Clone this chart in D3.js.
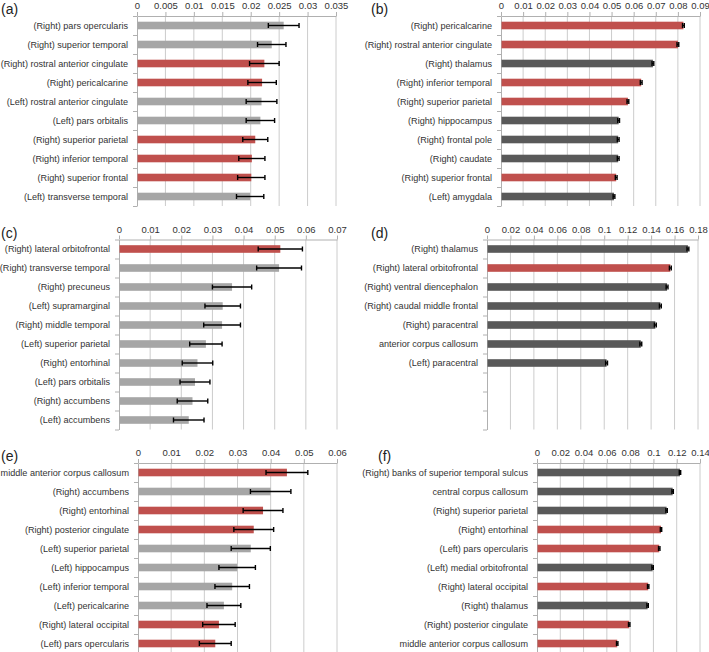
<!DOCTYPE html>
<html>
<head>
<meta charset="utf-8">
<script src="https://cdn.jsdelivr.net/npm/d3@7/dist/d3.min.js"></script>
<style>
  html, body { margin: 0; padding: 0; background: #fff; }
  svg { display: block; }
</style>
</head>
<body>
<svg id="chart" width="709" height="652"></svg>
<script>
// ---------------- DATA ----------------
// group codes: "r" = red bar, "g" = grey bar
const catsA = ["(Right) pars opercularis","(Right) superior temporal","(Right) rostral anterior cingulate","(Right) pericalcarine","(Left) rostral anterior cingulate","(Left) pars orbitalis","(Right) superior parietal","(Right) inferior temporal","(Right) superior frontal","(Left) transverse temporal"];
const valsA = [0.0258,0.0237,0.0224,0.0220,0.0219,0.0217,0.0208,0.0202,0.0201,0.0199];
const errsA = [0.0027,0.0025,0.0026,0.0025,0.0027,0.0025,0.0022,0.0023,0.0024,0.0024];
const grpA  = ["g","g","r","r","g","g","r","r","r","g"];
const ticksA = [0,0.005,0.01,0.015,0.02,0.025,0.03,0.035];

const catsB = ["(Right) pericalcarine","(Right) rostral anterior cingulate","(Right) thalamus","(Right) inferior temporal","(Right) superior parietal","(Right) hippocampus","(Right) frontal pole","(Right) caudate","(Right) superior frontal","(Left) amygdala"];
const valsB = [0.0825,0.0800,0.0687,0.0634,0.0574,0.0532,0.0530,0.0530,0.0521,0.0511];
const errsB = [0.0004,0.0004,0.0004,0.0004,0.0004,0.0004,0.0004,0.0004,0.0004,0.0004];
const grpB  = ["r","r","g","r","r","g","g","g","r","g"];
const ticksB = [0,0.01,0.02,0.03,0.04,0.05,0.06,0.07,0.08,0.09];

const catsC = ["(Right) lateral orbitofrontal","(Right) transverse temporal","(Right) precuneus","(Left) supramarginal","(Right) middle temporal","(Left) superior parietal","(Right) entorhinal","(Left) pars orbitalis","(Right) accumbens","(Left) accumbens"];
const valsC = [0.0518,0.0514,0.0363,0.0333,0.0331,0.0279,0.0252,0.0244,0.0236,0.0224];
const errsC = [0.0071,0.0072,0.0063,0.0057,0.0059,0.0052,0.0049,0.0048,0.0049,0.0049];
const grpC  = ["r","g","g","g","g","g","g","g","g","g"];
const ticksC = [0,0.01,0.02,0.03,0.04,0.05,0.06,0.07];

const catsD = ["(Right) thalamus","(Right) lateral orbitofrontal","(Right) ventral diencephalon","(Right) caudal middle frontal","(Right) paracentral","anterior corpus callosum","(Left) paracentral"];
const valsD = [0.1714,0.1564,0.1536,0.1479,0.1436,0.1312,0.1020];
const errsD = [0.0008,0.0008,0.0008,0.0008,0.0008,0.0008,0.0008];
const grpD  = ["g","r","g","g","g","g","g"];
const ticksD = [0,0.02,0.04,0.06,0.08,0.1,0.12,0.14,0.16,0.18];

const catsE = ["middle anterior corpus callosum","(Right) accumbens","(Right) entorhinal","(Right) posterior cingulate","(Left) superior parietal","(Left) hippocampus","(Left) inferior temporal","(Left) pericalcarine","(Right) lateral occipital","(Left) pars opercularis"];
const valsE = [0.0449,0.0400,0.0377,0.0349,0.0340,0.0299,0.0284,0.0259,0.0244,0.0233];
const errsE = [0.0063,0.0061,0.0060,0.0060,0.0059,0.0055,0.0052,0.0051,0.0049,0.0048];
const grpE  = ["r","g","r","r","g","g","g","g","r","r"];
const ticksE = [0,0.01,0.02,0.03,0.04,0.05,0.06];

const catsF = ["(Right) banks of superior temporal sulcus","central corpus callosum","(Right) superior parietal","(Right) entorhinal","(Left) pars opercularis","(Left) medial orbitofrontal","(Right) lateral occipital","(Right) thalamus","(Right) posterior cingulate","middle anterior corpus callosum"];
const valsF = [0.1228,0.1165,0.1113,0.1065,0.1050,0.0993,0.0955,0.0950,0.0792,0.0689];
const errsF = [0.0006,0.0006,0.0006,0.0006,0.0006,0.0006,0.0006,0.0006,0.0006,0.0006];
const grpF  = ["g","g","g","r","r","g","r","g","r","r"];
const ticksF = [0,0.02,0.04,0.06,0.08,0.1,0.12,0.14];

const panelNames = ["(a)","(b)","(c)","(d)","(e)","(f)"];

// ---------------- LAYOUT / STYLE ----------------
const RED = "#c0504d", LIGHT = "#a6a6a6", DARK = "#595959";
const slots = 10, step = 19;
const panels = [
  {name:panelNames[0], cats:catsA, vals:valsA, errs:errsA, grp:grpA, ticks:ticksA, x0:137, x1:336, top:16,    lx:1,   base:LIGHT},
  {name:panelNames[1], cats:catsB, vals:valsB, errs:errsB, grp:grpB, ticks:ticksB, x0:501, x1:700, top:16,    lx:371, base:DARK},
  {name:panelNames[2], cats:catsC, vals:valsC, errs:errsC, grp:grpC, ticks:ticksC, x0:119, x1:337, top:239.5, lx:1,   base:LIGHT},
  {name:panelNames[3], cats:catsD, vals:valsD, errs:errsD, grp:grpD, ticks:ticksD, x0:487, x1:698, top:239.5, lx:371, base:DARK},
  {name:panelNames[4], cats:catsE, vals:valsE, errs:errsE, grp:grpE, ticks:ticksE, x0:138, x1:337, top:463,   lx:1,   base:LIGHT},
  {name:panelNames[5], cats:catsF, vals:valsF, errs:errsF, grp:grpF, ticks:ticksF, x0:537, x1:700, top:463,   lx:378, base:DARK}
];

const svg = d3.select("#chart");
svg.append("rect").attr("width",709).attr("height",652).attr("fill","#fff");

panels.forEach(p => {
  const g = svg.append("g");
  const x = d3.scaleLinear().domain([0, p.ticks[p.ticks.length-1]]).range([p.x0, p.x1]);
  const y = d3.scaleBand().domain(d3.range(slots)).range([p.top, p.top + slots*step])
              .paddingInner(0.6).paddingOuter(0.3);
  const yl = d3.scaleLinear().domain([0, slots]).range([p.top, p.top + slots*step]);
  const color = d3.scaleOrdinal().domain(["r","g"]).range([RED, p.base]);
  const bottom = p.top + slots*step;

  // gridlines
  g.append("g").selectAll("line").data(p.ticks.slice(1)).join("line")
    .attr("x1", d => x(d)).attr("x2", d => x(d))
    .attr("y1", p.top).attr("y2", bottom)
    .attr("stroke", "#cccccc").attr("stroke-width", 1);

  // top axis
  const ax = g.append("g").attr("transform", `translate(0,${p.top})`)
    .call(d3.axisTop(x).tickValues(p.ticks).tickSize(4).tickSizeOuter(0).tickPadding(3).tickFormat(d3.format("~g")));
  ax.select(".domain").attr("stroke", "#b0b0b0");
  ax.selectAll(".tick line").attr("stroke", "#b0b0b0");
  ax.selectAll(".tick text").attr("font-family", "'Liberation Sans', Arial, sans-serif")
    .attr("font-size", "9.5px").attr("fill", "#333");

  // left category axis (ticks at band boundaries)
  const ay = g.append("g").attr("transform", `translate(${p.x0},0)`)
    .call(d3.axisLeft(yl).tickValues(d3.range(slots+1)).tickSize(4).tickSizeOuter(0).tickFormat(""));
  ay.select(".domain").attr("stroke", "#b0b0b0");
  ay.selectAll(".tick line").attr("stroke", "#b0b0b0");

  // category labels
  g.append("g").selectAll("text").data(p.cats).join("text")
    .attr("x", p.x0 - 9).attr("y", (d,i) => y(i) + y.bandwidth()/2)
    .attr("dy", "0.35em").attr("text-anchor", "end")
    .attr("font-family", "'Liberation Sans', Arial, sans-serif").attr("font-size", "9.1px")
    .attr("fill", "#333").text(d => d);

  // bars
  g.append("g").selectAll("rect").data(p.vals).join("rect")
    .attr("x", x(0) + 0.5).attr("y", (d,i) => y(i))
    .attr("width", d => x(d) - x(0) - 0.5).attr("height", y.bandwidth())
    .attr("fill", (d,i) => color(p.grp[i]));

  // error bars
  const eb = g.append("g").attr("stroke", "#000").attr("stroke-width", 1.4);
  p.vals.forEach((v,i) => {
    const cy = y(i) + y.bandwidth()/2, e = p.errs[i];
    eb.append("line").attr("x1", x(v-e)).attr("x2", x(v+e)).attr("y1", cy).attr("y2", cy);
    eb.append("line").attr("x1", x(v-e)).attr("x2", x(v-e)).attr("y1", cy-2.5).attr("y2", cy+2.5);
    eb.append("line").attr("x1", x(v+e)).attr("x2", x(v+e)).attr("y1", cy-2.5).attr("y2", cy+2.5);
  });

  // panel label
  svg.append("text").attr("x", p.lx).attr("y", p.top - 2)
    .attr("font-family", "'Liberation Sans', Arial, sans-serif").attr("font-size", "14px")
    .attr("fill", "#222").text(p.name);
});
</script>
</body>
</html>
